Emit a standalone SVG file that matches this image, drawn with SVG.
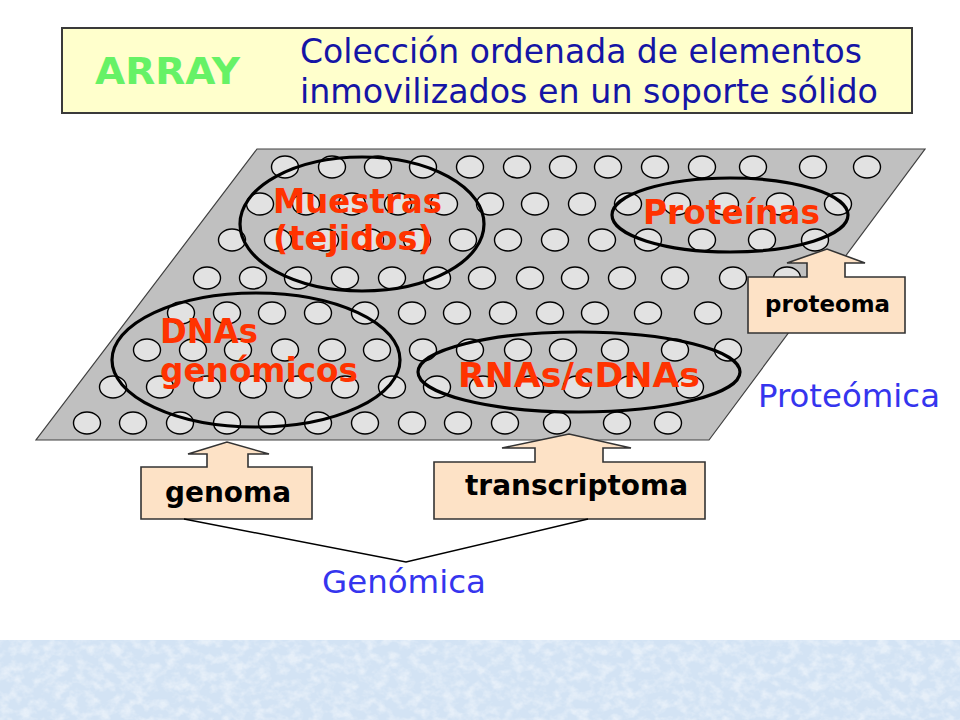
<svg xmlns="http://www.w3.org/2000/svg" width="960" height="720" viewBox="0 0 960 720">
<defs>
<style>
.plate{fill:#c0c0c0;stroke:#404040;stroke-width:1.2}
.dot{fill:#e2e2e2;stroke:#000;stroke-width:1.4}
.ring{fill:none;stroke:#000;stroke-width:3.2}
.red{font-family:"DejaVu Sans","Liberation Sans",sans-serif;font-weight:bold;font-size:33px;fill:#ff3300}
.call{fill:#fde2c6;stroke:#333;stroke-width:1.6}
.ctext{font-family:"DejaVu Sans","Liberation Sans",sans-serif;font-weight:bold;fill:#000}
.blue{font-family:"DejaVu Sans","Liberation Sans",sans-serif;font-size:32px;fill:#3535ee}
.title{font-family:"DejaVu Sans","Liberation Sans",sans-serif;font-size:33px;fill:#1515a5}
.conn{fill:none;stroke:#000;stroke-width:1.5}
</style>
<filter id="tex" x="0" y="0" width="100%" height="100%">
<feTurbulence type="fractalNoise" baseFrequency="0.09 0.11" numOctaves="3" seed="7"/>
<feColorMatrix type="matrix" values="0 0 0 0 1  0 0 0 0 1  0 0 0 0 1  2.6 0 0 0 -1.05"/>
</filter>
</defs>
<rect x="0" y="0" width="960" height="720" fill="#fff"/>
<g id="background-band">
<rect x="0" y="640" width="960" height="80" fill="#d3e3f4"/>
<rect x="0" y="640" width="960" height="80" filter="url(#tex)" opacity="0.45"/>
</g>

<g id="title">
<rect x="62" y="28" width="850" height="85" fill="#ffffcc" stroke="#3a3a3a" stroke-width="2"/>
<text x="95" y="84" font-family="DejaVu Sans, Liberation Sans, sans-serif" font-weight="bold" font-size="38" fill="#66f266" textLength="145" lengthAdjust="spacingAndGlyphs">ARRAY</text>
<text class="title" x="300" y="63" textLength="562" lengthAdjust="spacingAndGlyphs">Colección ordenada de elementos</text>
<text class="title" x="300" y="103" textLength="578" lengthAdjust="spacingAndGlyphs">inmovilizados en un soporte sólido</text>
</g>

<g id="array-plate">
<polygon class="plate" points="257,149 925,149 709,440 36,440"/>
<g id="spots">
<g transform="translate(0,167)">
<ellipse class="dot" cx="285" cy="0" rx="13.5" ry="11"/><ellipse class="dot" cx="332" cy="0" rx="13.5" ry="11"/><ellipse class="dot" cx="378" cy="0" rx="13.5" ry="11"/><ellipse class="dot" cx="423" cy="0" rx="13.5" ry="11"/><ellipse class="dot" cx="470" cy="0" rx="13.5" ry="11"/><ellipse class="dot" cx="517" cy="0" rx="13.5" ry="11"/><ellipse class="dot" cx="563" cy="0" rx="13.5" ry="11"/><ellipse class="dot" cx="608" cy="0" rx="13.5" ry="11"/><ellipse class="dot" cx="655" cy="0" rx="13.5" ry="11"/><ellipse class="dot" cx="702" cy="0" rx="13.5" ry="11"/><ellipse class="dot" cx="753" cy="0" rx="13.5" ry="11"/><ellipse class="dot" cx="813" cy="0" rx="13.5" ry="11"/><ellipse class="dot" cx="867" cy="0" rx="13.5" ry="11"/>
</g>
<g transform="translate(0,204)">
<ellipse class="dot" cx="260" cy="0" rx="13.5" ry="11"/><ellipse class="dot" cx="306" cy="0" rx="13.5" ry="11"/><ellipse class="dot" cx="352" cy="0" rx="13.5" ry="11"/><ellipse class="dot" cx="398" cy="0" rx="13.5" ry="11"/><ellipse class="dot" cx="444" cy="0" rx="13.5" ry="11"/><ellipse class="dot" cx="490" cy="0" rx="13.5" ry="11"/><ellipse class="dot" cx="535" cy="0" rx="13.5" ry="11"/><ellipse class="dot" cx="582" cy="0" rx="13.5" ry="11"/><ellipse class="dot" cx="628" cy="0" rx="13.5" ry="11"/><ellipse class="dot" cx="677" cy="0" rx="13.5" ry="11"/><ellipse class="dot" cx="725" cy="0" rx="13.5" ry="11"/><ellipse class="dot" cx="780" cy="0" rx="13.5" ry="11"/><ellipse class="dot" cx="838" cy="0" rx="13.5" ry="11"/>
</g>
<g transform="translate(0,240)">
<ellipse class="dot" cx="232" cy="0" rx="13.5" ry="11"/><ellipse class="dot" cx="278" cy="0" rx="13.5" ry="11"/><ellipse class="dot" cx="325" cy="0" rx="13.5" ry="11"/><ellipse class="dot" cx="370" cy="0" rx="13.5" ry="11"/><ellipse class="dot" cx="417" cy="0" rx="13.5" ry="11"/><ellipse class="dot" cx="463" cy="0" rx="13.5" ry="11"/><ellipse class="dot" cx="508" cy="0" rx="13.5" ry="11"/><ellipse class="dot" cx="555" cy="0" rx="13.5" ry="11"/><ellipse class="dot" cx="602" cy="0" rx="13.5" ry="11"/><ellipse class="dot" cx="648" cy="0" rx="13.5" ry="11"/><ellipse class="dot" cx="702" cy="0" rx="13.5" ry="11"/><ellipse class="dot" cx="762" cy="0" rx="13.5" ry="11"/><ellipse class="dot" cx="815" cy="0" rx="13.5" ry="11"/>
</g>
<g transform="translate(0,278)">
<ellipse class="dot" cx="207" cy="0" rx="13.5" ry="11"/><ellipse class="dot" cx="253" cy="0" rx="13.5" ry="11"/><ellipse class="dot" cx="298" cy="0" rx="13.5" ry="11"/><ellipse class="dot" cx="345" cy="0" rx="13.5" ry="11"/><ellipse class="dot" cx="392" cy="0" rx="13.5" ry="11"/><ellipse class="dot" cx="437" cy="0" rx="13.5" ry="11"/><ellipse class="dot" cx="482" cy="0" rx="13.5" ry="11"/><ellipse class="dot" cx="530" cy="0" rx="13.5" ry="11"/><ellipse class="dot" cx="575" cy="0" rx="13.5" ry="11"/><ellipse class="dot" cx="622" cy="0" rx="13.5" ry="11"/><ellipse class="dot" cx="675" cy="0" rx="13.5" ry="11"/><ellipse class="dot" cx="733" cy="0" rx="13.5" ry="11"/><ellipse class="dot" cx="787" cy="0" rx="13.5" ry="11"/>
</g>
<g transform="translate(0,313)">
<ellipse class="dot" cx="181" cy="0" rx="13.5" ry="11"/><ellipse class="dot" cx="227" cy="0" rx="13.5" ry="11"/><ellipse class="dot" cx="272" cy="0" rx="13.5" ry="11"/><ellipse class="dot" cx="318" cy="0" rx="13.5" ry="11"/><ellipse class="dot" cx="365" cy="0" rx="13.5" ry="11"/><ellipse class="dot" cx="412" cy="0" rx="13.5" ry="11"/><ellipse class="dot" cx="457" cy="0" rx="13.5" ry="11"/><ellipse class="dot" cx="503" cy="0" rx="13.5" ry="11"/><ellipse class="dot" cx="550" cy="0" rx="13.5" ry="11"/><ellipse class="dot" cx="595" cy="0" rx="13.5" ry="11"/><ellipse class="dot" cx="648" cy="0" rx="13.5" ry="11"/><ellipse class="dot" cx="708" cy="0" rx="13.5" ry="11"/>
</g>
<g transform="translate(0,350)">
<ellipse class="dot" cx="147" cy="0" rx="13.5" ry="11"/><ellipse class="dot" cx="193" cy="0" rx="13.5" ry="11"/><ellipse class="dot" cx="238" cy="0" rx="13.5" ry="11"/><ellipse class="dot" cx="285" cy="0" rx="13.5" ry="11"/><ellipse class="dot" cx="332" cy="0" rx="13.5" ry="11"/><ellipse class="dot" cx="377" cy="0" rx="13.5" ry="11"/><ellipse class="dot" cx="423" cy="0" rx="13.5" ry="11"/><ellipse class="dot" cx="470" cy="0" rx="13.5" ry="11"/><ellipse class="dot" cx="518" cy="0" rx="13.5" ry="11"/><ellipse class="dot" cx="563" cy="0" rx="13.5" ry="11"/><ellipse class="dot" cx="615" cy="0" rx="13.5" ry="11"/><ellipse class="dot" cx="675" cy="0" rx="13.5" ry="11"/><ellipse class="dot" cx="728" cy="0" rx="13.5" ry="11"/>
</g>
<g transform="translate(0,387)">
<ellipse class="dot" cx="113" cy="0" rx="13.5" ry="11"/><ellipse class="dot" cx="160" cy="0" rx="13.5" ry="11"/><ellipse class="dot" cx="207" cy="0" rx="13.5" ry="11"/><ellipse class="dot" cx="253" cy="0" rx="13.5" ry="11"/><ellipse class="dot" cx="298" cy="0" rx="13.5" ry="11"/><ellipse class="dot" cx="345" cy="0" rx="13.5" ry="11"/><ellipse class="dot" cx="392" cy="0" rx="13.5" ry="11"/><ellipse class="dot" cx="437" cy="0" rx="13.5" ry="11"/><ellipse class="dot" cx="483" cy="0" rx="13.5" ry="11"/><ellipse class="dot" cx="530" cy="0" rx="13.5" ry="11"/><ellipse class="dot" cx="577" cy="0" rx="13.5" ry="11"/><ellipse class="dot" cx="630" cy="0" rx="13.5" ry="11"/><ellipse class="dot" cx="690" cy="0" rx="13.5" ry="11"/>
</g>
<g transform="translate(0,423)">
<ellipse class="dot" cx="87" cy="0" rx="13.5" ry="11"/><ellipse class="dot" cx="133" cy="0" rx="13.5" ry="11"/><ellipse class="dot" cx="180" cy="0" rx="13.5" ry="11"/><ellipse class="dot" cx="227" cy="0" rx="13.5" ry="11"/><ellipse class="dot" cx="272" cy="0" rx="13.5" ry="11"/><ellipse class="dot" cx="318" cy="0" rx="13.5" ry="11"/><ellipse class="dot" cx="365" cy="0" rx="13.5" ry="11"/><ellipse class="dot" cx="412" cy="0" rx="13.5" ry="11"/><ellipse class="dot" cx="458" cy="0" rx="13.5" ry="11"/><ellipse class="dot" cx="505" cy="0" rx="13.5" ry="11"/><ellipse class="dot" cx="557" cy="0" rx="13.5" ry="11"/><ellipse class="dot" cx="617" cy="0" rx="13.5" ry="11"/><ellipse class="dot" cx="668" cy="0" rx="13.5" ry="11"/>
</g>
</g>
</g>

<g id="region-muestras">
<ellipse class="ring" cx="362" cy="224" rx="122" ry="67"/>
<text class="red" x="273" y="213" textLength="169" lengthAdjust="spacingAndGlyphs">Muestras</text>
<text class="red" x="273" y="250" textLength="160" lengthAdjust="spacingAndGlyphs">(tejidos)</text>
</g>
<g id="region-dnas">
<ellipse class="ring" cx="256" cy="360" rx="144" ry="67"/>
<text class="red" x="160" y="343" textLength="98" lengthAdjust="spacingAndGlyphs">DNAs</text>
<text class="red" x="160" y="382" textLength="198" lengthAdjust="spacingAndGlyphs">genómicos</text>
</g>
<g id="region-rnas">
<ellipse class="ring" cx="579" cy="372" rx="161" ry="40"/>
<text class="red" x="458" y="387" textLength="242" lengthAdjust="spacingAndGlyphs">RNAs/cDNAs</text>
</g>
<g id="region-proteinas">
<ellipse class="ring" cx="730" cy="215" rx="118" ry="37"/>
<text class="red" x="643" y="224" textLength="177" lengthAdjust="spacingAndGlyphs">Proteínas</text>
</g>

<g id="callout-proteoma">
<polygon class="call" points="748,277 807,277 807,263 787,263 827,249 865,263 845,263 845,277 905,277 905,333 748,333"/>
<text class="ctext" x="765" y="312" font-size="23" textLength="125" lengthAdjust="spacingAndGlyphs">proteoma</text>
</g>
<g id="callout-genoma">
<polygon class="call" points="141,467 207,467 207,454 188,454 227,442 269,454 248,454 248,467 312,467 312,519 141,519"/>
<text class="ctext" x="165" y="502" font-size="28" textLength="126" lengthAdjust="spacingAndGlyphs">genoma</text>
</g>
<g id="callout-transcriptoma">
<polygon class="call" points="434,462 535,462 535,448 502,448 569,434 631,448 603,448 603,462 705,462 705,519 434,519"/>
<text class="ctext" x="465" y="495" font-size="28" textLength="223" lengthAdjust="spacingAndGlyphs">transcriptoma</text>
</g>

<g id="connectors">
<polyline class="conn" points="184,519 406,562 588,519"/>
</g>

<g id="label-genomica">
<text class="blue" x="322" y="593" textLength="164" lengthAdjust="spacingAndGlyphs">Genómica</text>
</g>
<g id="label-proteomica">
<text class="blue" x="758" y="407" textLength="182" lengthAdjust="spacingAndGlyphs">Proteómica</text>
</g>
</svg>
